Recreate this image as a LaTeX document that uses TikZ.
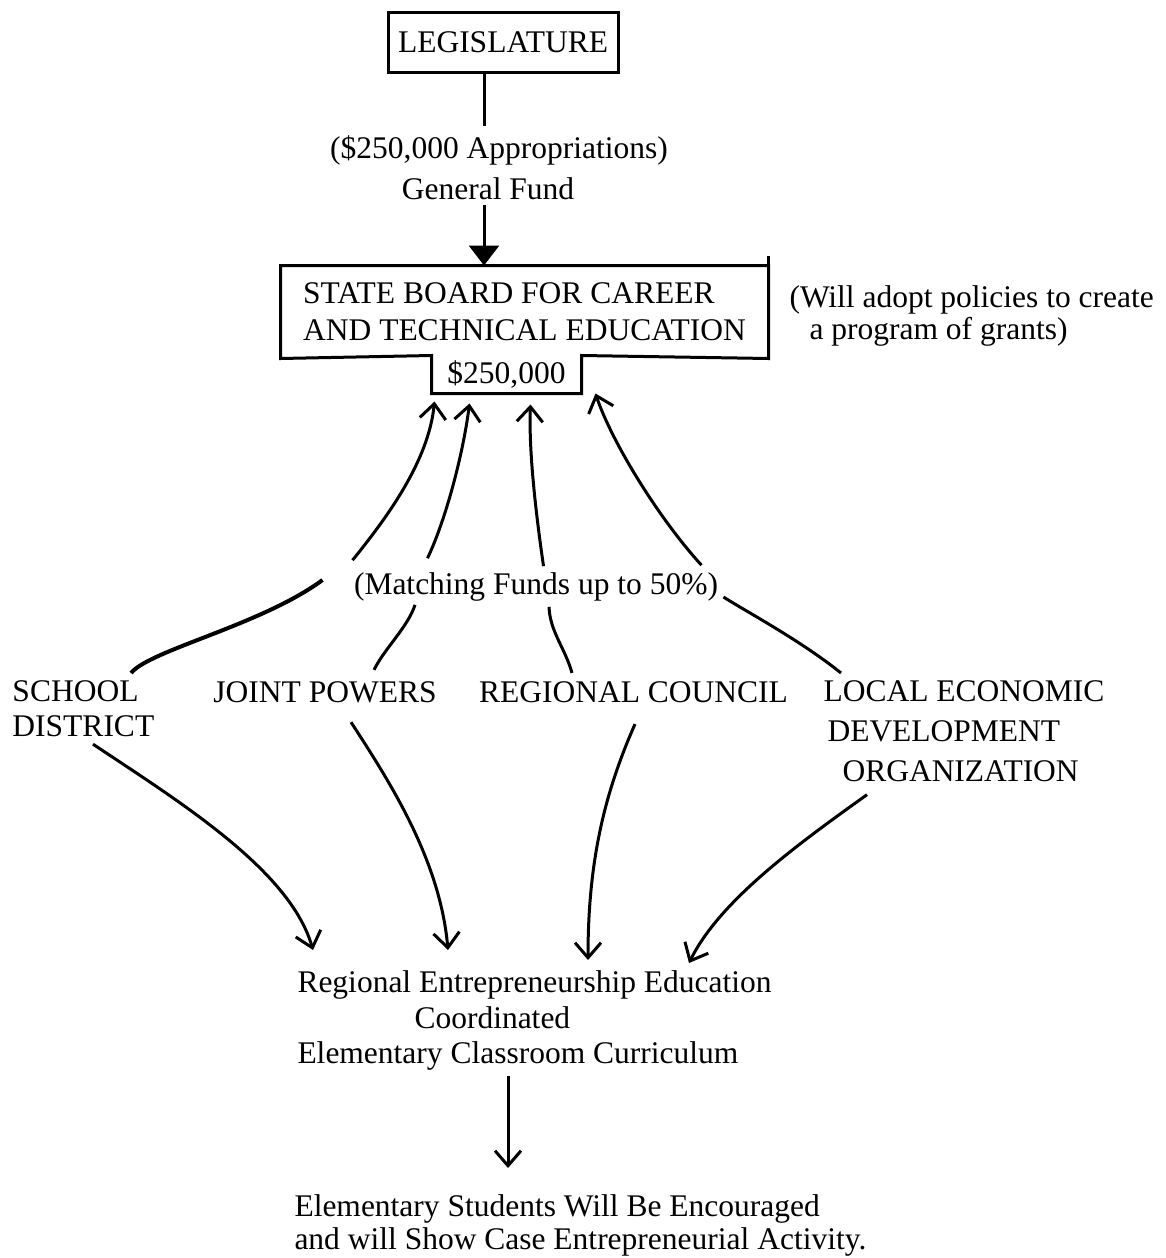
\documentclass[tikz,border=0pt]{standalone}
\usepackage{fontspec}
\setmainfont{Liberation Serif}
\usetikzlibrary{arrows.meta}

\begin{document}
\begin{tikzpicture}[x=1pt,y=-1pt,line width=3pt,>={Straight Barb[length=15pt,width=26pt]},
		font=\fontsize{31.5}{36}\selectfont,
		txt/.style={inner sep=0pt},
		heavy/.style={line width=4pt}]
		\useasboundingbox (0,0) rectangle (1166,1258);
		\node[draw,minimum width=230pt,minimum height=60pt] (leg) at (503,42) {LEGISLATURE};
		\node[txt] (approp) at (499,150) {(\$250,000 Appropriations)};
		\node[txt] (genfund) at (488,189) {General Fund};
		\node[minimum width=485pt,minimum height=90pt,align=left,font=\fontsize{31.5}{37}\selectfont] (board) at (524.5,312) {STATE BOARD FOR CAREER\\AND TECHNICAL EDUCATION};
		\node[minimum width=147pt,minimum height=35pt] (fund) at (506.5,374.5) {\$250,000};
		\node[txt,anchor=west,align=left,font=\fontsize{31.5}{32}\selectfont] (note) at (788,316) {(Will adopt policies to create\\\hspace*{20pt}a program of grants)};
		\node[txt] (match) at (536,587) {(Matching Funds up to 50\%)};
		\node[txt,anchor=north west,align=left,font=\fontsize{31.5}{35}\selectfont] (sd) at (11,679) {SCHOOL\\DISTRICT};
		\node[txt] (jp) at (325,692) {JOINT POWERS};
		\node[txt] (rc) at (633.5,692) {REGIONAL COUNCIL};
		\node[txt,anchor=north west,align=left,font=\fontsize{31.5}{40}\selectfont] (ledo) at (822,679) {LOCAL ECONOMIC\\\hspace*{4pt}DEVELOPMENT\\\hspace*{19pt}ORGANIZATION};
		\node[txt,anchor=north west,align=left,font=\fontsize{31.5}{35.5}\selectfont] (cur) at (296,969.5) {Regional Entrepreneurship Education\\\hspace*{117pt}Coordinated\\Elementary Classroom Curriculum};
		\node[txt,anchor=north west,align=left,font=\fontsize{31.5}{33}\selectfont] (stu) at (293,1193.5) {Elementary Students Will Be Encouraged\\and will Show Case Entrepreneurial Activity.};
		\draw (board.north west) -- (board.north east) -- (board.south east) -- (fund.north east) -- (fund.south east) -- (fund.south west) -- (fund.north west) -- (board.south west) -- cycle;
		\draw ([yshift=10pt]board.north east) -- (board.north east);
		\draw ([xshift=-19pt]leg.south) -- ([xshift=-15pt,yshift=8pt]approp.north);
		\draw[-{Triangle[length=20pt,width=30pt]}] ([xshift=-4pt,yshift=-3pt]genfund.south) -- ([xshift=-4pt]genfund.south |- board.north);
		\draw[->] ([yshift=11pt]match.north west) .. controls +(34,-42) and +(-6,60) .. ([shift={(3pt,-8pt)}]fund.south west);
		\draw[->] ([shift={(75pt,13pt)}]match.north west) .. controls +(19,-40) and +(-6,48) .. ([shift={(38pt,-10pt)}]fund.south west);
		\draw[->] ([shift={(191pt,5pt)}]match.north west) .. controls +(-7,-48) and +(-2,47) .. ([shift={(99pt,-11pt)}]fund.south west);
		\draw[->] ([shift={(-18pt,6pt)}]match.north east) .. controls +(-43,-47) and +(16,48) .. ([xshift=14pt]fund.south east);
		\draw[heavy] ([shift={(120pt,6pt)}]sd.north west) .. controls +(19,-23) and +(-61,45) .. ([shift={(-30pt,7pt)}]match.west);
		\draw ([shift={(49pt,10pt)}]jp.north) .. controls +(11,-22) and +(-7,22) .. ([shift={(-121pt,-2pt)}]match.south);
		\draw ([shift={(-61.5pt,7pt)}]rc.north) .. controls +(-7,-25) and +(1,25) .. ([shift={(13pt,-4pt)}]match.south);
		\draw ([shift={(19pt,6pt)}]ledo.north west) .. controls +(-41,-33) and +(20,13) .. ([shift={(4pt,-10pt)}]match.east);
		\draw[->] ([shift={(82pt,-6pt)}]sd.south west) .. controls +(87,58) and +(-23,-80) .. ([shift={(17pt,19.5pt)}]cur.north west);
		\draw[->] ([shift={(26pt,-18pt)}]jp.south) .. controls +(39,60) and +(-8,-90) .. ([shift={(152pt,19.5pt)}]cur.north west);
		\draw[->] ([shift={(1.5pt,-20pt)}]rc.south) .. controls +(-30,68) and +(0,-100) .. ([shift={(292pt,9.5pt)}]cur.north west);
		\draw[->] ([shift={(45pt,-11.5pt)}]ledo.south west) .. controls +(-67,48) and +(31,-63) .. ([shift={(393pt,6.5pt)}]cur.north west);
		\draw[->] ([shift={(212pt,-4pt)}]cur.south west) -- ([shift={(215pt,25.5pt)}]stu.north west);
	\end{tikzpicture}
\end{document}
